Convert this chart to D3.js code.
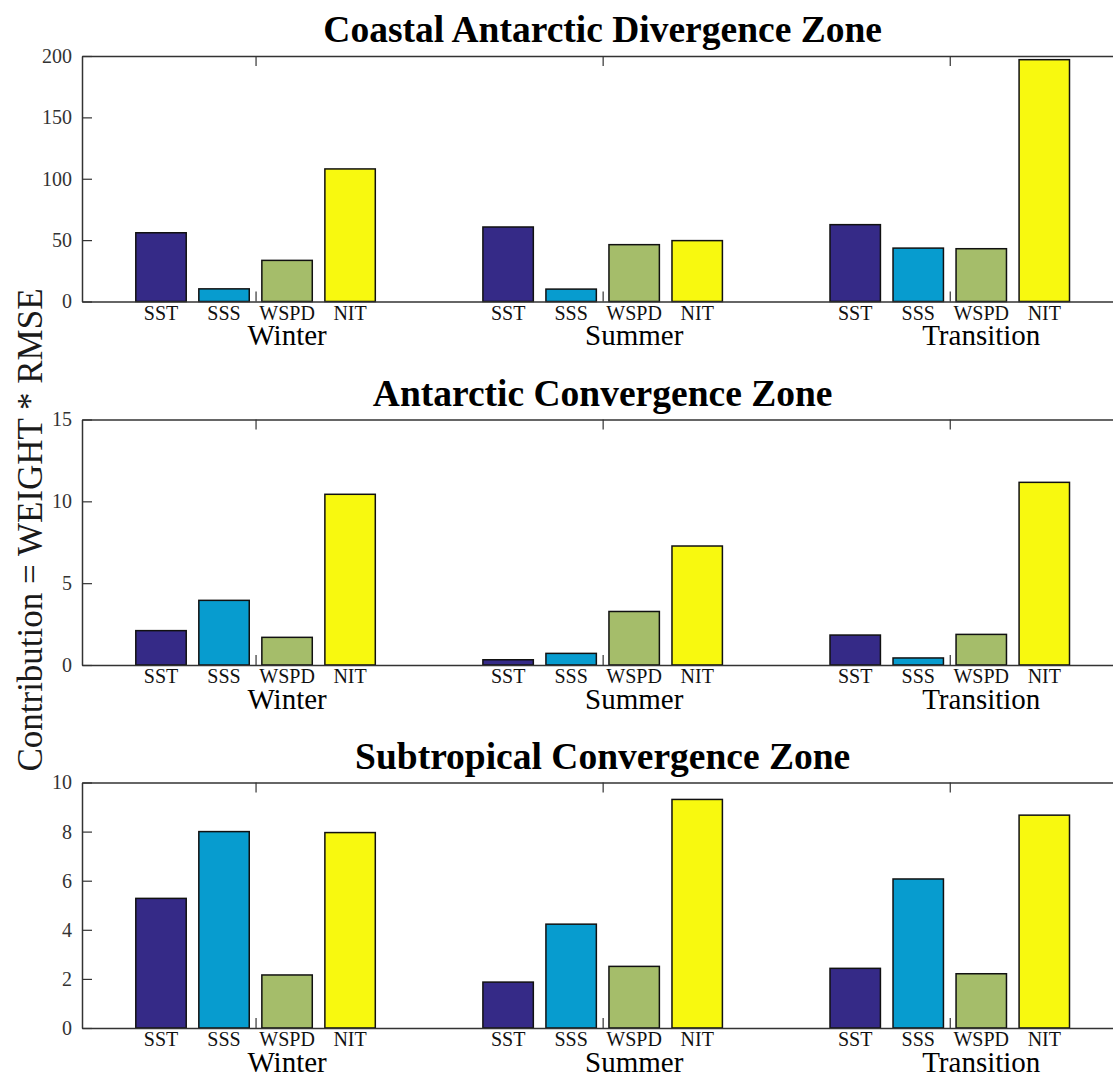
<!DOCTYPE html>
<html>
<head>
<meta charset="utf-8">
<script src="https://cdn.jsdelivr.net/npm/d3@7"></script>
<style>
    html, body { margin: 0; padding: 0; background: #fff; }
    svg { display: block; font-family: "Liberation Serif", "Times New Roman", serif; }
</style>
</head>
<body>
<svg id="chart" width="1113" height="1077"></svg>
<script>

var zones = ['Coastal Antarctic Divergence Zone', 'Antarctic Convergence Zone', 'Subtropical Convergence Zone'];
var seasons = ['Winter', 'Summer', 'Transition'];
var variables = ['SST', 'SSS', 'WSPD', 'NIT'];
var colors = ['#352a87', '#079ccf', '#a5bd6a', '#f8f90f'];

// values per season: [SST, SSS, WSPD, NIT]
var coastalValues = [
    [56, 10.3, 33.5, 108],
    [60.7, 10.1, 46.3, 49.6],
    [62.6, 43.5, 43, 197]
];
var antarcticValues = [
    [2.1, 3.95, 1.69, 10.43],
    [0.32, 0.71, 3.27, 7.27],
    [1.83, 0.43, 1.87, 11.16]
];
var subtropicalValues = [
    [5.28, 8.0, 2.16, 7.96],
    [1.87, 4.23, 2.51, 9.31],
    [2.43, 6.07, 2.21, 8.67]
];

var coastalTicks = [0, 50, 100, 150, 200];
var antarcticTicks = [0, 5, 10, 15];
var subtropicalTicks = [0, 2, 4, 6, 8, 10];

var yLabel = 'Contribution = WEIGHT * RMSE';

(function () {

    var svg = d3.select('#chart');
    var axisColor = '#333';

    var panels = [
        {title: zones[0], values: coastalValues, ticks: coastalTicks, top: 56},
        {title: zones[1], values: antarcticValues, ticks: antarcticTicks, top: 419.5},
        {title: zones[2], values: subtropicalValues, ticks: subtropicalTicks, top: 782.5}
    ];
    var panelHeight = 245.5;
    var left = 82, right = 1123.3;

    // group position, MATLAB style xlim [0.5, 3.5]
    var x = d3.scaleLinear().domain([0.5, 3.5]).range([left, right]);
    var half = (x(1.345) - x(1));
    var xInner = d3.scaleBand().domain(variables).range([-half, half]).paddingInner(0.2);

    panels.forEach(function (p) {
        var bottom = p.top + panelHeight;
        var y = d3.scaleLinear()
            .domain([0, d3.max(p.ticks)])
            .range([bottom, p.top]);

        var g = svg.append('g');

        // bars
        var groups = g.selectAll('.season')
            .data(p.values)
            .enter()
            .append('g')
            .attr('class', 'season')
            .attr('transform', function (d, i) {
                return 'translate(' + x(i + 1) + ',0)';
            });

        groups.selectAll('rect')
            .data(function (d) { return d; })
            .enter()
            .append('rect')
            .attr('x', function (d, j) { return xInner(variables[j]); })
            .attr('width', xInner.bandwidth())
            .attr('y', function (d) { return y(d); })
            .attr('height', function (d) { return y(0) - y(d); })
            .attr('fill', function (d, j) { return colors[j]; })
            .attr('stroke', '#111')
            .attr('stroke-width', 1.5);

        // variable labels under bars
        groups.selectAll('.var-label')
            .data(variables)
            .enter()
            .append('text')
            .attr('class', 'var-label')
            .attr('x', function (v) { return xInner(v) + xInner.bandwidth() / 2; })
            .attr('y', bottom + 18)
            .attr('text-anchor', 'middle')
            .attr('font-size', 20)
            .attr('fill', '#111')
            .text(function (v) { return v; });

        // season label, sits under WSPD bar
        groups.append('text')
            .attr('x', xInner('WSPD') + xInner.bandwidth() / 2)
            .attr('y', bottom + 43.5)
            .attr('text-anchor', 'middle')
            .attr('font-size', 29)
            .attr('fill', '#000')
            .text(function (d, i) { return seasons[i]; });

        // axes
        var yLeft = d3.axisLeft(y).tickValues(p.ticks).tickSizeInner(-10).tickSizeOuter(0).tickPadding(10);
        var yRight = d3.axisRight(y).tickValues(p.ticks).tickSizeInner(-10).tickSizeOuter(0).tickFormat('');
        var xBottom = d3.axisBottom(x).tickValues([1, 2, 3]).tickSizeInner(-10).tickSizeOuter(0).tickFormat('');
        var xTop = d3.axisTop(x).tickValues([1, 2, 3]).tickSizeInner(-10).tickSizeOuter(0).tickFormat('');

        var axes = [
            g.append('g').attr('transform', 'translate(' + left + ',0)').call(yLeft),
            g.append('g').attr('transform', 'translate(' + right + ',0)').call(yRight),
            g.append('g').attr('transform', 'translate(0,' + bottom + ')').call(xBottom),
            g.append('g').attr('transform', 'translate(0,' + p.top + ')').call(xTop)
        ];
        axes.forEach(function (a) {
            a.select('.domain').attr('stroke', axisColor).attr('stroke-width', 1.5);
            a.selectAll('.tick line').attr('stroke', axisColor).attr('stroke-width', 1.2);
            a.selectAll('.tick text')
                .attr('font-family', '"Liberation Serif", "Times New Roman", serif')
                .attr('font-size', 20)
                .attr('fill', '#333');
        });

        // title
        g.append('text')
            .attr('x', (left + right) / 2)
            .attr('y', p.top - 14)
            .attr('text-anchor', 'middle')
            .attr('font-size', 37.5)
            .attr('font-weight', 'bold')
            .attr('fill', '#000')
            .text(p.title);
    });

    svg.append('text')
        .attr('transform', 'translate(42,530) rotate(-90)')
        .attr('text-anchor', 'middle')
        .attr('font-size', 35)
        .attr('fill', '#1a1a1a')
        .text(yLabel);

})();
</script>
</body>
</html>
